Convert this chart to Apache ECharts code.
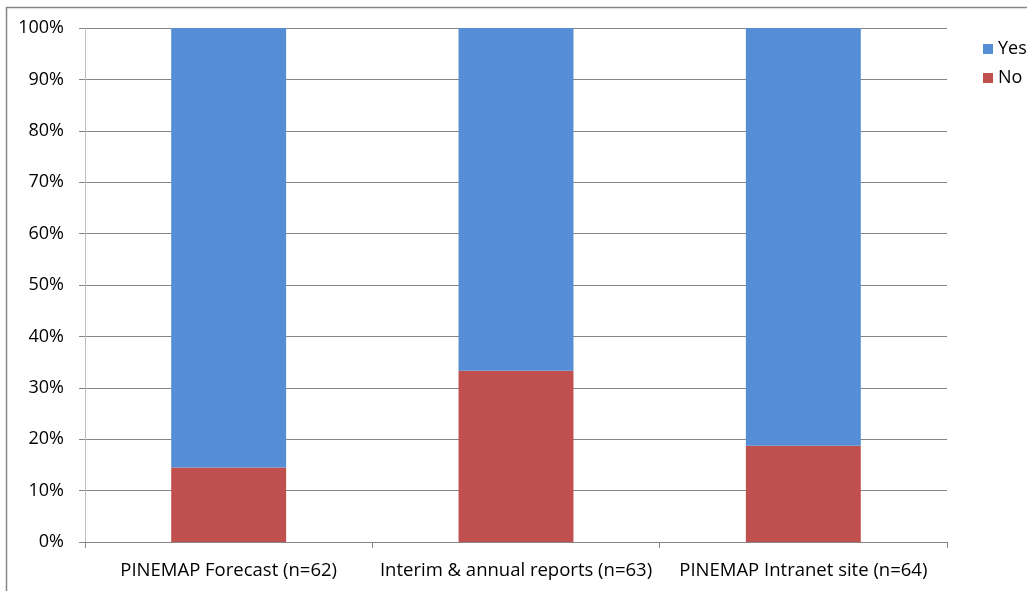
<!DOCTYPE html>
<html>
<head>
<meta charset="utf-8">
<script src="https://cdn.jsdelivr.net/npm/echarts@6/dist/echarts.min.js"></script>
<style>
html,body{margin:0;padding:0;background:#fff;}
#chart{width:1027px;height:591px;}
</style>
</head>
<body>
<div id="chart"></div>
<script>
var categories = ['PINEMAP Forecast (n=62)', 'Interim & annual reports (n=63)', 'PINEMAP Intranet site (n=64)'];
var noValues = [14.5, 33.3, 18.75];
var yesValues = [85.5, 66.7, 81.25];
var yTicks = [0, 10, 20, 30, 40, 50, 60, 70, 80, 90, 100];

var chart = echarts.init(document.getElementById('chart'));
var font = 'Open Sans, Liberation Sans, sans-serif';
chart.setOption({
  animation: false,
  backgroundColor: '#fff',
  graphic: [{
    type: 'rect',
    shape: { x: 6.5, y: 7.5, width: 1200, height: 800 },
    style: { fill: null, stroke: '#868686', lineWidth: 1.5 },
    silent: true
  }],
  grid: { left: 85, right: 80, top: 28, bottom: 49 },
  legend: {
    data: ['Yes', 'No'],
    orient: 'vertical',
    left: 978,
    top: 35,
    itemWidth: 10,
    itemHeight: 10,
    itemGap: 11,
    icon: 'rect',
    textStyle: { fontFamily: font, fontSize: 18, color: '#000' }
  },
  xAxis: {
    type: 'category',
    data: categories,
    axisLine: { lineStyle: { color: '#868686', width: 1 } },
    axisTick: { show: true, length: 6, lineStyle: { color: '#868686' } },
    axisLabel: { fontFamily: font, fontSize: 18.5, color: '#000', margin: 19, interval: 0 }
  },
  yAxis: {
    type: 'value',
    min: 0,
    max: 100,
    interval: 10,
    axisLine: { show: true, lineStyle: { color: '#BFBFBF', width: 1 } },
    axisTick: { show: true, length: 6, lineStyle: { color: '#868686' } },
    axisLabel: {
      fontFamily: font, fontSize: 18, color: '#000', margin: 21,
      formatter: function (v) { return yTicks.indexOf(v) >= 0 ? v + '%' : ''; }
    },
    splitLine: { show: true, lineStyle: { color: '#868686', width: 1 } }
  },
  series: [
    {
      name: 'No', type: 'bar', stack: 'total', data: noValues,
      barWidth: '40%', itemStyle: { color: '#C0504D' }
    },
    {
      name: 'Yes', type: 'bar', stack: 'total', data: yesValues,
      barWidth: '40%', itemStyle: { color: '#558ED5' }
    }
  ]
});
</script>
</body>
</html>
